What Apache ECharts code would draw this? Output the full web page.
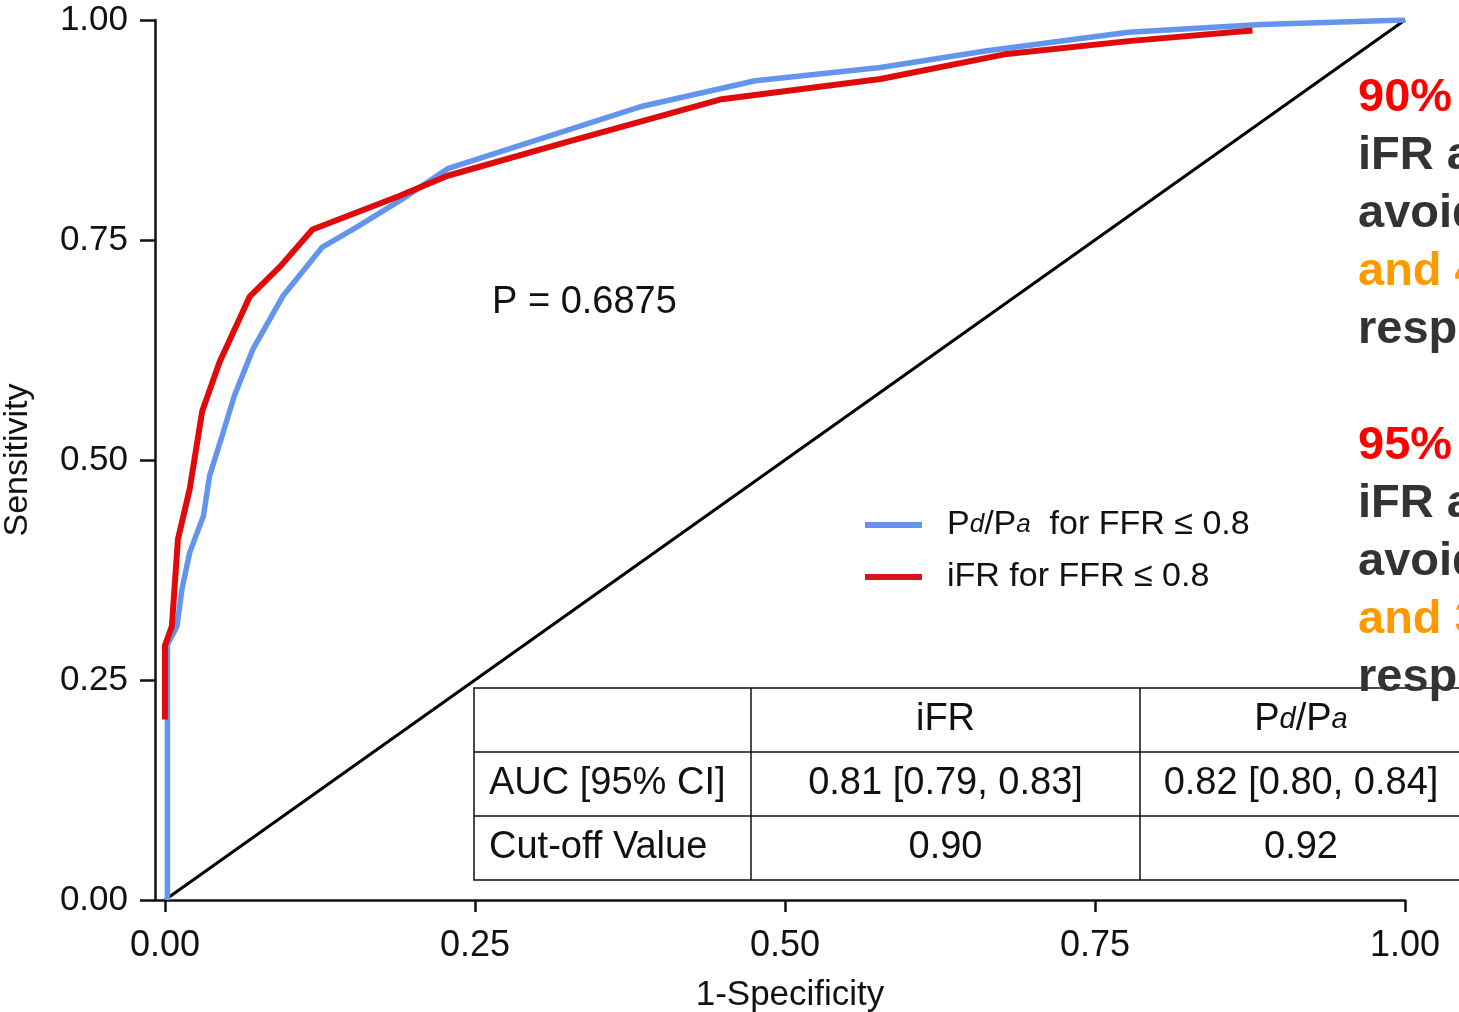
<!DOCTYPE html>
<html>
<head>
<meta charset="utf-8">
<script src="https://cdn.jsdelivr.net/npm/echarts@6/dist/echarts.min.js"></script>
<style>
  html, body { margin: 0; padding: 0; background: #fff; }
  #roc { width: 1459px; height: 1012px; }
</style>
</head>
<body>
<div id="roc"></div>
<script>
// ROC points: [1-specificity, sensitivity]
const ifrX = [0, 0, 0.0056, 0.0105, 0.020, 0.030, 0.044, 0.0685, 0.093, 0.119, 0.189, 0.228, 0.323, 0.449, 0.577, 0.677, 0.777, 0.877]
const ifrY = [0.205, 0.289, 0.311, 0.41, 0.467, 0.555, 0.611, 0.686, 0.72, 0.762, 0.80, 0.823, 0.861, 0.91, 0.933, 0.961, 0.976, 0.988]
const pdpaX = [0.002, 0.002, 0.0097, 0.0137, 0.020, 0.031, 0.036, 0.046, 0.056, 0.071, 0.095, 0.127, 0.155, 0.192, 0.228, 0.385, 0.476, 0.577, 0.663, 0.777, 0.884, 1.0]
const pdpaY = [0, 0.29, 0.311, 0.353, 0.395, 0.436, 0.482, 0.527, 0.573, 0.626, 0.686, 0.742, 0.765, 0.797, 0.831, 0.902, 0.931, 0.946, 0.965, 0.986, 0.995, 1.0]
const refX = [0, 1]
const refY = [0, 1]
const ticks = [0, 0.25, 0.5, 0.75, 1]

const seriesNames = ['Pd/Pa for FFR ≤ 0.8', 'iFR for FFR ≤ 0.8']
const pText = 'P = 0.6875'

// comparison table
const tableHead = ['', 'iFR', 'Pd/Pa']
const tableRows = [
  ['AUC [95% CI]', '0.81 [0.79, 0.83]', '0.82 [0.80, 0.84]'],
  ['Cut-off Value', '0.90', '0.92']
]

// side notes (cut off by the right edge)
const notes = [
  ['r', '90% accuracy:'],
  ['k', 'iFR adenosine-free'],
  ['k', 'avoided in 65%'],
  ['o', 'and 48% of patients'],
  ['k', 'respectively'],
  ['k', ' '],
  ['r', '95% accuracy:'],
  ['k', 'iFR adenosine-free'],
  ['k', 'avoided in 57%'],
  ['o', 'and 35% of patients'],
  ['k', 'respectively']
]

const zip = (xs, ys) => xs.map((x, i) => [x, ys[i]])
const font = 'Liberation Sans, Arial, sans-serif'
const ink = '#111'

const tblLeft = 474
const tblTop = 688
const rowH = 64
const colW = [277, 389, 322]

function cellText (txt, col, row, alignLeft) {
  let x0 = tblLeft
  for (let i = 0; i < col; i++) x0 += colW[i]
  if (txt.indexOf('Pd/Pa') === 0) {
    txt = '{n|P}{s|d}{n|/P}{s|a}'
  } else {
    txt = '{n|' + txt + '}'
  }
  return {
    type: 'text',
    x: alignLeft ? x0 + 15 : x0 + colW[col] / 2,
    y: tblTop + rowH * row + rowH / 2,
    z: 10,
    style: {
      text: txt,
      align: alignLeft ? 'left' : 'center',
      verticalAlign: 'middle',
      rich: {
        n: {fontSize: 38, fontFamily: font, fill: ink},
        s: {fontSize: 29, fontFamily: font, fontStyle: 'italic', fill: ink}
      }
    }
  }
}

const tableEls = []
const totalW = colW.reduce((a, b) => a + b, 0)
tableEls.push({type: 'rect', z: 9, shape: {x: tblLeft, y: tblTop, width: totalW, height: rowH * 3},
  style: {fill: '#fff', stroke: ink, lineWidth: 1.5}})
for (let r = 1; r < 3; r++) {
  tableEls.push({type: 'line', z: 9, shape: {x1: tblLeft, y1: tblTop + rowH * r, x2: tblLeft + totalW, y2: tblTop + rowH * r},
    style: {stroke: ink, lineWidth: 1.5}})
}
let cx = tblLeft
for (let c = 0; c < 2; c++) {
  cx += colW[c]
  tableEls.push({type: 'line', z: 9, shape: {x1: cx, y1: tblTop, x2: cx, y2: tblTop + rowH * 3},
    style: {stroke: ink, lineWidth: 1.5}})
}
tableHead.forEach((t, c) => { if (t) tableEls.push(cellText(t, c, 0, false)) })
tableRows.forEach((row, r) => {
  row.forEach((t, c) => tableEls.push(cellText(t, c, r + 1, c === 0)))
})

const notesText = notes.map(n => '{' + n[0] + '|' + n[1] + '}').join('\n')
const boldNote = {fontSize: 47, fontWeight: 'bold', fontFamily: font, lineHeight: 58}

let option = {
  animation: false,
  backgroundColor: '#fff',
  grid: {left: 155, right: 54, top: 20, bottom: 112, outerBoundsMode: 'none'},
  xAxis: {
    type: 'value',
    min: -0.008,
    max: 1,
    name: '1-Specificity',
    nameLocation: 'middle',
    nameGap: 78,
    nameTextStyle: {fontSize: 35, fontFamily: font, color: ink, padding: [0, 0, 0, 20]},
    axisLine: {onZero: false, lineStyle: {color: ink, width: 2.5}},
    axisTick: {customValues: ticks, length: 12, lineStyle: {color: ink, width: 2.5}},
    axisLabel: {customValues: ticks, fontSize: 36, fontFamily: font, color: ink, margin: 28,
      formatter: v => v.toFixed(2)},
    splitLine: {show: false}
  },
  yAxis: {
    type: 'value',
    min: 0,
    max: 1,
    interval: 0.25,
    name: 'Sensitivity',
    nameLocation: 'middle',
    nameGap: 120,
    nameTextStyle: {fontSize: 34, fontFamily: font, color: ink},
    axisLine: {show: true, onZero: false, lineStyle: {color: ink, width: 2.5}},
    axisTick: {show: true, length: 15, lineStyle: {color: ink, width: 2.5}},
    axisLabel: {fontSize: 35, fontFamily: font, color: ink, margin: 27,
      formatter: v => v.toFixed(2)},
    splitLine: {show: false}
  },
  legend: {
    data: seriesNames,
    orient: 'vertical',
    left: 860,
    top: 500,
    icon: 'rect',
    itemWidth: 57,
    itemHeight: 6,
    itemGap: 12,
    selectedMode: false,
    formatter: function (name) {
      if (name.indexOf('Pd/Pa') === 0) return '{n|P}{s|d}{n|/P}{s|a}{n|  for FFR ≤ 0.8}'
      return '{n|' + name + '}'
    },
    textStyle: {
      padding: [0, 0, 0, 20],
      lineHeight: 40,
      rich: {
        n: {fontSize: 34, fontFamily: font, color: ink, lineHeight: 40},
        s: {fontSize: 26, fontFamily: font, fontStyle: 'italic', color: ink, lineHeight: 40}
      }
    }
  },
  series: [
    {
      type: 'line',
      name: 'ref',
      data: zip(refX, refY),
      showSymbol: false,
      silent: true,
      lineStyle: {color: '#000', width: 3}
    },
    {
      type: 'line',
      name: seriesNames[0],
      data: zip(pdpaX, pdpaY),
      showSymbol: false,
      silent: true,
      color: '#6495ed',
      lineStyle: {color: '#6495ed', width: 5.5}
    },
    {
      type: 'line',
      name: seriesNames[1],
      data: zip(ifrX, ifrY),
      showSymbol: false,
      silent: true,
      color: '#d8141c',
      lineStyle: {color: '#e00a0a', width: 6}
    }
  ],
  graphic: [
    {
      type: 'text',
      x: 492,
      y: 303,
      style: {text: pText, fontSize: 38, fontFamily: font, fill: ink, verticalAlign: 'middle'}
    },
    ...tableEls,
    {
      type: 'text',
      x: 1358,
      y: 69,
      z: 20,
      style: {
        text: notesText,
        verticalAlign: 'top',
        rich: {
          r: Object.assign({fill: '#ff0000'}, boldNote),
          k: Object.assign({fill: '#333333'}, boldNote),
          o: Object.assign({fill: '#ff9900'}, boldNote)
        }
      }
    }
  ]
}
echarts.init(document.getElementById('roc')).setOption(option)
</script>
</body>
</html>
